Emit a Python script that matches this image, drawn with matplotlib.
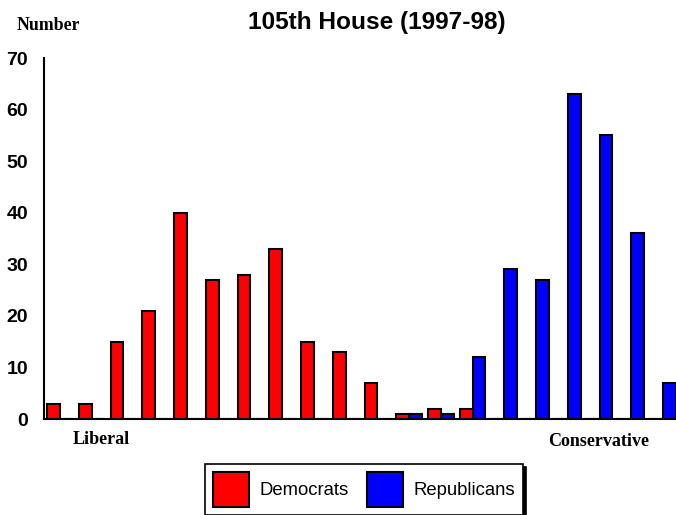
import matplotlib
matplotlib.use("Agg")
import matplotlib.pyplot as plt
import numpy as np

# ideology bins, liberal (left) to conservative (right)
bins = np.arange(20)
democrats = [3, 3, 15, 21, 40, 27, 28, 33, 15, 13, 7, 1, 2, 2, 0, 0, 0, 0, 0, 0]
republicans = [0, 0, 0, 0, 0, 0, 0, 0, 0, 0, 0, 1, 1, 12, 29, 27, 63, 55, 36, 7]
y_ticks = [0, 10, 20, 30, 40, 50, 60, 70]

W, H = 676, 515
fig = plt.figure(figsize=(W / 100, H / 100), dpi=100)
ax = fig.add_axes([44 / W, 1 - 419 / H, 635 / W, 361 / H])

bw = 0.4
ax.bar(bins - bw / 2, democrats, bw, color="#ff0000", edgecolor="black",
       linewidth=1.5, label="Democrats")
ax.bar(bins + bw / 2, republicans, bw, color="#0000ff", edgecolor="black",
       linewidth=1.5, label="Republicans")

ax.set_xlim(-0.5, 19.5)
ax.set_ylim(0, 70)
ax.set_yticks(y_ticks)
ax.set_xticks([])
ax.tick_params(axis="y", length=0, pad=11.5)
for lab in ax.get_yticklabels():
    lab.set_fontfamily("Liberation Sans")
    lab.set_fontweight("bold")
    lab.set_fontsize(14)
for s in ["top", "right"]:
    ax.spines[s].set_visible(False)
for s in ["left", "bottom"]:
    ax.spines[s].set_linewidth(1.5)
    ax.spines[s].set_color("black")

fig.text(377 / W, 1 - 22 / H, "105th House (1997-98)", ha="center", va="center",
         fontsize=17.6, fontweight="bold", family="Liberation Sans")
fig.text(48 / W, 1 - 26 / H, "Number", ha="center", va="center",
         fontsize=12.8, fontweight="bold", family="Liberation Serif")
fig.text(101 / W, 1 - 439 / H, "Liberal", ha="center", va="center",
         fontsize=13, fontweight="bold", family="Liberation Serif")
fig.text(599 / W, 1 - 442 / H, "Conservative", ha="center", va="center",
         fontsize=13, fontweight="bold", family="Liberation Serif")

leg = fig.legend(loc="upper left", bbox_to_anchor=(205 / W, 1 - 464 / H), ncol=2,
                 fancybox=False, edgecolor="black", framealpha=1,
                 shadow={"color": "black", "alpha": 1},
                 prop={"family": "Liberation Sans", "size": 13.3},
                 handlelength=1.95, handleheight=2.5, handletextpad=0.55,
                 columnspacing=1.0, borderpad=0.45, borderaxespad=0)
leg.get_frame().set_linewidth(1.2)

fig.savefig("out.png", dpi=100)
